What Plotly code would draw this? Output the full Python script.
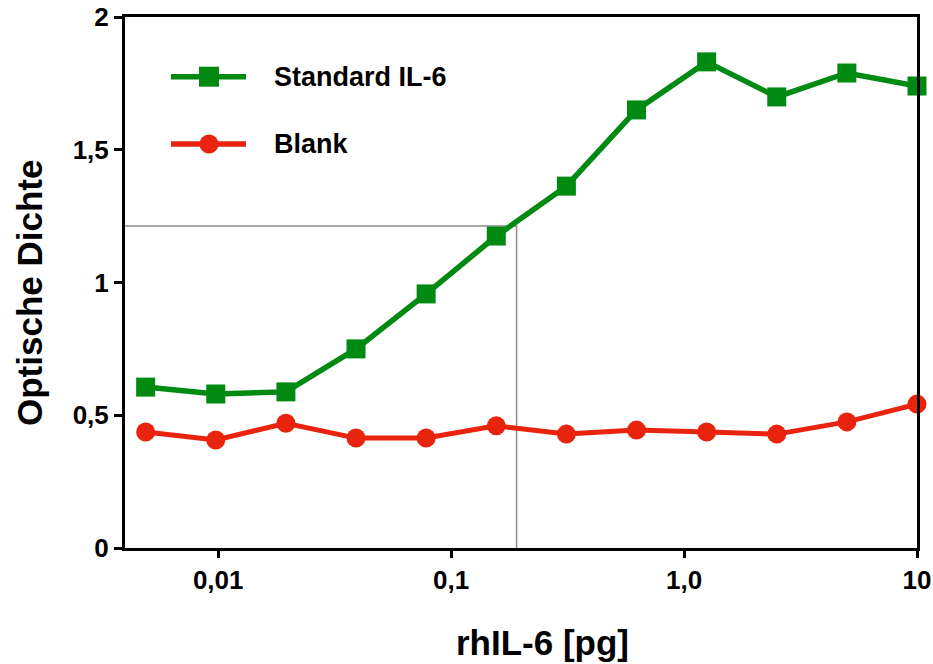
import plotly.graph_objects as go

# Data
dose_pg = [10 / 2 ** k for k in range(11, -1, -1)]
standard_il6 = [0.606, 0.580, 0.588, 0.750, 0.957, 1.175, 1.363, 1.650, 1.831, 1.699, 1.789, 1.740]
blank = [0.437, 0.407, 0.470, 0.414, 0.414, 0.460, 0.429, 0.444, 0.437, 0.429, 0.475, 0.542]
ref_x = 0.191
ref_y = 1.213
x_tickvals = [0.01, 0.1, 1, 10]
x_ticktext = ["0,01", "0,1", "1,0", "10"]
y_tickvals = [0, 0.5, 1, 1.5, 2]
y_ticktext = ["0", "0,5", "1", "1,5", "2"]
x_title = "rhIL-6 [pg]"
y_title = "Optische Dichte"

GREEN = "#008a12"
RED = "#e8230e"
FONT = "Liberation Sans"

fig = go.Figure()

# reference lines
fig.add_trace(go.Scatter(
    x=[10 ** -2.4, ref_x, ref_x], y=[ref_y, ref_y, 0],
    mode="lines", line=dict(color="#8a8a8a", width=1.5),
    showlegend=False, hoverinfo="skip"))

fig.add_trace(go.Scatter(
    x=dose_pg, y=standard_il6, mode="lines+markers", name="Standard IL-6",
    line=dict(color=GREEN, width=5.5),
    marker=dict(symbol="square", size=19, color=GREEN),
    cliponaxis=False, showlegend=False))

fig.add_trace(go.Scatter(
    x=dose_pg, y=blank, mode="lines+markers", name="Blank",
    line=dict(color=RED, width=5),
    marker=dict(symbol="circle", size=19, color=RED),
    cliponaxis=False, showlegend=False))

# manual legend
L, R, T, B = 125, 917, 17, 548
def px(x):
    return (x - L) / (R - L)
def py(y):
    return (B - y) / (B - T)

legend_items = [("Standard IL-6", GREEN, "square", 76.7), ("Blank", RED, "circle", 144)]
shapes = []
annotations = []
for name, col, sym, yy in legend_items:
    shapes.append(dict(type="line", xref="paper", yref="paper",
                       x0=px(171), x1=px(246), y0=py(yy), y1=py(yy),
                       line=dict(color=col, width=5.5)))
    h = 10 if sym == "square" else 9.5
    shapes.append(dict(type="rect" if sym == "square" else "circle",
                       xref="paper", yref="paper",
                       xsizemode="pixel", ysizemode="pixel",
                       xanchor=px(209), yanchor=py(yy),
                       x0=-h, x1=h, y0=-h, y1=h,
                       fillcolor=col, line=dict(width=0)))
    annotations.append(dict(xref="paper", yref="paper", x=px(272), y=py(yy),
                            xanchor="left", yanchor="middle", showarrow=False,
                            text=name, font=dict(family=FONT, size=27, color="black", weight="bold")))

# axis titles
annotations.append(dict(xref="paper", yref="paper", x=px(542), y=py(642),
                        xanchor="center", yanchor="middle", showarrow=False,
                        text=x_title, font=dict(family=FONT, size=35, color="black", weight="bold")))
annotations.append(dict(xref="paper", yref="paper", x=px(29), y=py(293),
                        xanchor="center", yanchor="middle", showarrow=False, textangle=-90,
                        text=y_title, font=dict(family=FONT, size=35, color="black", weight="bold")))

fig.update_layout(
    width=933, height=664,
    margin=dict(l=L, r=933 - R, t=T, b=664 - B),
    plot_bgcolor="white", paper_bgcolor="white",
    shapes=shapes, annotations=annotations,
    font=dict(family=FONT, color="black"),
    xaxis=dict(
        type="log", range=[-2.4, 1.0], automargin=False,
        tickvals=x_tickvals, ticktext=x_ticktext,
        ticks="outside", ticklen=7, tickwidth=2.5, tickcolor="black",
        showline=True, linewidth=3, linecolor="black", mirror=True,
        showgrid=False, zeroline=False,
        tickfont=dict(family=FONT, size=26, weight="bold"),
    ),
    yaxis=dict(
        range=[0, 2], automargin=False,
        tickvals=y_tickvals, ticktext=y_ticktext,
        ticks="outside", ticklen=8, tickwidth=2.5, tickcolor="black",
        showline=True, linewidth=3, linecolor="black", mirror=True,
        showgrid=False, zeroline=False,
        tickfont=dict(family=FONT, size=26, weight="bold"),
    ),
)

fig.write_html("out.html")
